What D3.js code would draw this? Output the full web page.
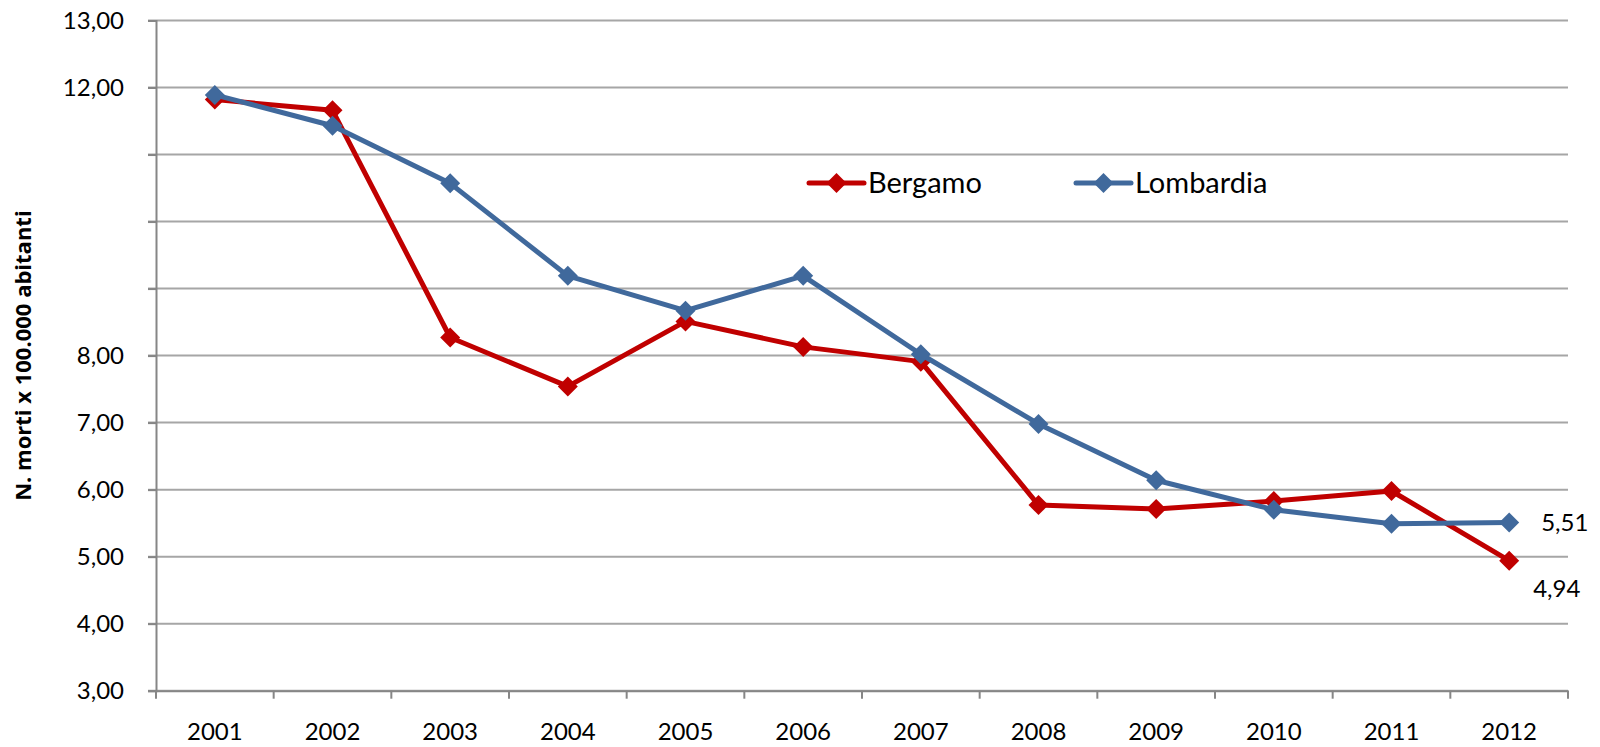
<!DOCTYPE html>
<html>
<head>
<meta charset="utf-8">
<script src="https://cdn.jsdelivr.net/npm/d3@7"></script>
<style>
  body { margin: 0; background: #fff; }
  svg { display: block; font-family: Lato, "Open Sans", sans-serif; }
</style>
</head>
<body>
<svg id="chart" width="1600" height="747"></svg>
<script>
// data
const years = ["2001","2002","2003","2004","2005","2006","2007","2008","2009","2010","2011","2012"]
const bergamo = [11.82, 11.66, 8.27, 7.54, 8.51, 8.13, 7.91, 5.77, 5.71, 5.83, 5.98, 4.94]
const lombardia = [11.89, 11.43, 10.57, 9.19, 8.67, 9.19, 8.02, 6.98, 6.14, 5.70, 5.49, 5.51]
const yTicks = [3, 4, 5, 6, 7, 8, 9, 10, 11, 12, 13]
const yTickLabels = ["3,00","4,00","5,00","6,00","7,00","8,00","","","","12,00","13,00"]
const seriesNames = ["Bergamo", "Lombardia"]
const endLabels = ["4,94", "5,51"]

const colors = {Bergamo: "#C00000", Lombardia: "#40699C"}

const svg = d3.select("#chart")
const plot = {left: 156, right: 1568, top: 20.5, bottom: 690.7}

const x = d3.scaleBand().domain(years).range([plot.left, plot.right])
const y = d3.scaleLinear().domain([3, 13]).range([plot.bottom, plot.top])

// gridlines
svg.append("g")
  .selectAll("line")
  .data(yTicks)
  .join("line")
  .attr("x1", plot.left - 8)
  .attr("x2", plot.right)
  .attr("y1", d => y(d))
  .attr("y2", d => y(d))
  .attr("stroke", "#a6a6a6")
  .attr("stroke-width", 2)

// y axis
const yAxis = svg.append("g")
  .attr("transform", `translate(${plot.left},0)`)
  .call(d3.axisLeft(y).tickValues(yTicks).tickSize(8).tickPadding(24)
    .tickFormat((d, i) => yTickLabels[i]))
yAxis.select(".domain").attr("stroke", "#868686").attr("stroke-width", 2)
yAxis.selectAll(".tick line").attr("stroke", "#868686").attr("stroke-width", 2)
yAxis.selectAll(".tick text")
  .attr("font-family", "Lato, sans-serif")
  .attr("font-size", 24)
  .attr("fill", "#000")

// x axis, ticks between categories
const xAxis = svg.append("g")
  .attr("transform", `translate(0,${plot.bottom})`)
  .call(d3.axisBottom(x).tickSize(0).tickPadding(32))
xAxis.select(".domain").attr("stroke", "#868686").attr("stroke-width", 2)
xAxis.selectAll(".tick text")
  .attr("font-family", "Lato, sans-serif")
  .attr("font-size", 24)
  .attr("fill", "#000")

const boundaries = years.map(d => x(d)).concat([x(years[years.length - 1]) + x.bandwidth()])
svg.append("g")
  .selectAll("line")
  .data(boundaries)
  .join("line")
  .attr("x1", d => d).attr("x2", d => d)
  .attr("y1", plot.bottom).attr("y2", plot.bottom + 8)
  .attr("stroke", "#868686")
  .attr("stroke-width", 2)

// y axis title
svg.append("text")
  .attr("transform", `translate(31,${(plot.top + plot.bottom) / 2}) rotate(-90)`)
  .attr("text-anchor", "middle")
  .attr("font-family", "'Open Sans', sans-serif")
  .attr("font-weight", "bold")
  .attr("font-size", 22)
  .text("N. morti x 100.000 abitanti")

const diamond = r => `M0,${-r}L${r},0L0,${r}L${-r},0Z`
const cx = d => x(d) + x.bandwidth() / 2

const line = d3.line().x(d => cx(d.year)).y(d => y(d.value))

const series = [
  {name: "Bergamo", values: bergamo},
  {name: "Lombardia", values: lombardia}
]

for(const s of series){
  const pts = years.map((yr, i) => ({year: yr, value: s.values[i]}))
  const g = svg.append("g")
  g.append("path")
    .datum(pts)
    .attr("d", line)
    .attr("fill", "none")
    .attr("stroke", colors[s.name])
    .attr("stroke-width", 5)
    .attr("stroke-linejoin", "round")
  g.selectAll("path.mk")
    .data(pts)
    .join("path")
    .attr("class", "mk")
    .attr("d", diamond(10))
    .attr("transform", d => `translate(${cx(d.year)},${y(d.value)})`)
    .attr("fill", colors[s.name])
}

// end value labels
const lastYear = years[years.length - 1]
svg.append("text")
  .attr("x", cx(lastYear) + 32)
  .attr("y", y(lombardia[lombardia.length - 1]))
  .attr("dy", "0.35em")
  .attr("font-size", 24)
  .text(endLabels[1])
svg.append("text")
  .attr("x", cx(lastYear) + 24)
  .attr("y", y(bergamo[bergamo.length - 1]) + 28)
  .attr("dy", "0.35em")
  .attr("font-size", 24)
  .text(endLabels[0])

// legend
const legendItems = [
  {name: seriesNames[0], x: 809},
  {name: seriesNames[1], x: 1076}
]
const legendY = 183
const lg = svg.append("g")
for(const item of legendItems){
  lg.append("line")
    .attr("x1", item.x).attr("x2", item.x + 55)
    .attr("y1", legendY).attr("y2", legendY)
    .attr("stroke", colors[item.name])
    .attr("stroke-width", 5)
    .attr("stroke-linecap", "round")
  lg.append("path")
    .attr("d", diamond(10))
    .attr("transform", `translate(${item.x + 27.5},${legendY})`)
    .attr("fill", colors[item.name])
  lg.append("text")
    .attr("x", item.x + 59)
    .attr("y", legendY)
    .attr("dy", "0.35em")
    .attr("font-size", 29)
    .text(item.name)
}
</script>
</body>
</html>
